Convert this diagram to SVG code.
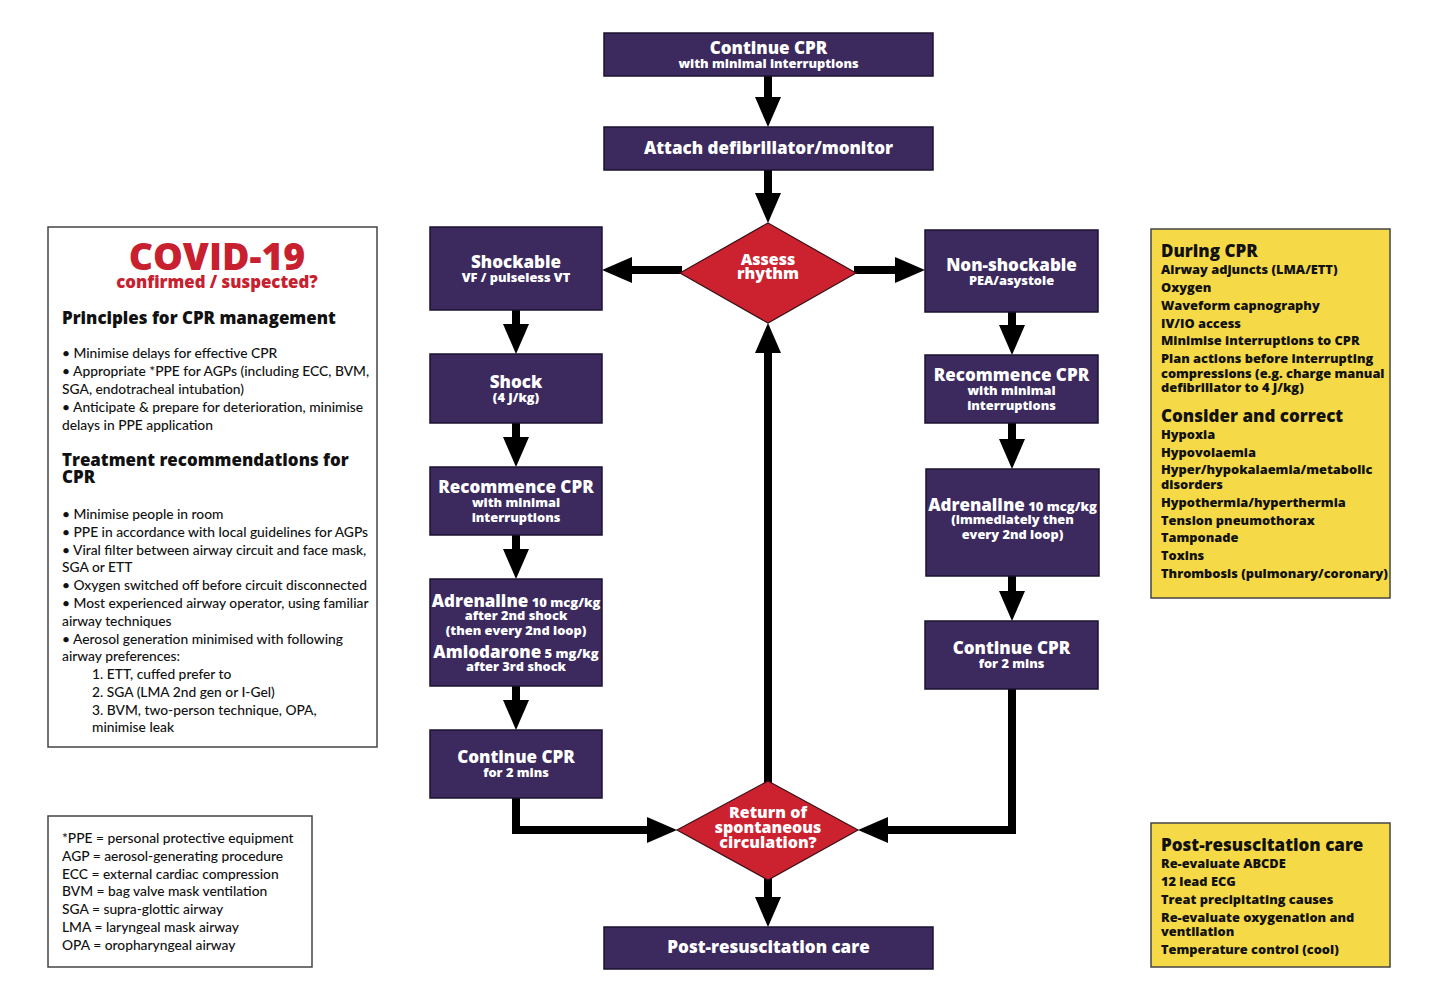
<svg xmlns="http://www.w3.org/2000/svg" width="1435" height="1000" viewBox="0 0 1435 1000">
<defs>
<style>
.node{fill:#3c2a5e;stroke:#1b1230;stroke-width:1.5}
.dia{fill:#cc2230;stroke:#3a1015;stroke-width:1.2}
.panel{fill:#ffffff;stroke:#444;stroke-width:1.5}
.ypanel{fill:#f5d946;stroke:#444;stroke-width:1.5}
text{font-family:"Open Sans","Liberation Sans",sans-serif}
.t{fill:#fff;font-weight:800;font-size:17px;text-anchor:middle}
.s{fill:#fff;font-weight:800;font-size:12.8px;text-anchor:middle}
.ds{font-size:13px}
.d{fill:#fff;font-weight:800;font-size:16px;text-anchor:middle}
.body{fill:#111;font-size:13.8px;font-weight:500;font-family:Lato,"Liberation Sans",sans-serif}
.h{fill:#111;font-size:16.9px;font-weight:800}
.yh{fill:#111;font-size:17px;font-weight:800}
.yi{fill:#111;font-size:12.8px;font-weight:800}
.conn{fill:none;stroke:#000;stroke-width:8;stroke-linejoin:miter}
</style>
<marker id="ah" markerUnits="userSpaceOnUse" markerWidth="30" markerHeight="26" viewBox="0 0 30 26" refX="4" refY="13" orient="auto">
<path d="M0,0 L30,13 L0,26 z" fill="#000"/>
</marker>
</defs>
<rect width="1435" height="1000" fill="#fff"/>

<g id="connectors">
<path class="conn" d="M768,76 V101" marker-end="url(#ah)"/>
<path class="conn" d="M768,170 V197" marker-end="url(#ah)"/>
<path class="conn" d="M682,270 H628" marker-end="url(#ah)"/>
<path class="conn" d="M854,270 H899" marker-end="url(#ah)"/>
<path class="conn" d="M516,310 V328" marker-end="url(#ah)"/>
<path class="conn" d="M516,423 V441" marker-end="url(#ah)"/>
<path class="conn" d="M516,535 V553" marker-end="url(#ah)"/>
<path class="conn" d="M516,686 V704" marker-end="url(#ah)"/>
<path class="conn" d="M516,798 V830 H651" marker-end="url(#ah)"/>
<path class="conn" d="M1012,312 V329" marker-end="url(#ah)"/>
<path class="conn" d="M1012,423 V443" marker-end="url(#ah)"/>
<path class="conn" d="M1012,576 V595" marker-end="url(#ah)"/>
<path class="conn" d="M1012,689 V830 H884" marker-end="url(#ah)"/>
<path class="conn" d="M768,783 V349" marker-end="url(#ah)"/>
<path class="conn" d="M768,878 V901" marker-end="url(#ah)"/>
</g>

<g id="n-continue-top">
<rect class="node" x="604" y="33" width="329" height="43"/>
<text class="t" x="768.5" y="54">Continue CPR</text>
<text class="s" x="768.5" y="68">with minimal interruptions</text>
</g>

<g id="n-attach">
<rect class="node" x="604" y="127" width="329" height="43"/>
<text class="t" x="768.5" y="154">Attach defibrillator/monitor</text>
</g>

<g id="n-assess">
<polygon class="dia" points="768,223 856,273 768,323 680,273"/>
<text class="d" x="768" y="265">Assess</text>
<text class="d" x="768" y="279">rhythm</text>
</g>

<g id="n-shockable">
<rect class="node" x="430" y="227" width="172" height="83"/>
<text class="t" x="516" y="268">Shockable</text>
<text class="s" x="516" y="282">VF / pulseless VT</text>
</g>

<g id="n-nonshockable">
<rect class="node" x="925" y="230" width="173" height="82"/>
<text class="t" x="1011.5" y="271">Non-shockable</text>
<text class="s" x="1011.5" y="285">PEA/asystole</text>
</g>

<g id="n-shock">
<rect class="node" x="430" y="354" width="172" height="69"/>
<text class="t" x="516" y="388">Shock</text>
<text class="s" x="516" y="402">(4 J/kg)</text>
</g>

<g id="n-recommence-left">
<rect class="node" x="430" y="467" width="172" height="68"/>
<text class="t" x="516" y="493">Recommence CPR</text>
<text class="s" x="516" y="507">with minimal</text>
<text class="s" x="516" y="522">interruptions</text>
</g>

<g id="n-drugs-left">
<rect class="node" x="430" y="579" width="172" height="107"/>
<text class="t" x="516" y="607">Adrenaline<tspan class="ds"> 10 mcg/kg</tspan></text>
<text class="s" x="516" y="620">after 2nd shock</text>
<text class="s" x="516" y="635">(then every 2nd loop)</text>
<text class="t" x="516" y="658">Amiodarone<tspan class="ds"> 5 mg/kg</tspan></text>
<text class="s" x="516" y="671">after 3rd shock</text>
</g>

<g id="n-continue-left">
<rect class="node" x="430" y="730" width="172" height="68"/>
<text class="t" x="516" y="763">Continue CPR</text>
<text class="s" x="516" y="777">for 2 mins</text>
</g>

<g id="n-recommence-right">
<rect class="node" x="925" y="355" width="173" height="68"/>
<text class="t" x="1011.5" y="381">Recommence CPR</text>
<text class="s" x="1011.5" y="395">with minimal</text>
<text class="s" x="1011.5" y="410">interruptions</text>
</g>

<g id="n-adrenaline-right">
<rect class="node" x="926" y="469" width="173" height="107"/>
<text class="t" x="1012.5" y="511">Adrenaline<tspan class="ds"> 10 mcg/kg</tspan></text>
<text class="s" x="1012.5" y="524">(immediately then</text>
<text class="s" x="1012.5" y="539">every 2nd loop)</text>
</g>

<g id="n-continue-right">
<rect class="node" x="925" y="621" width="173" height="68"/>
<text class="t" x="1011.5" y="654">Continue CPR</text>
<text class="s" x="1011.5" y="668">for 2 mins</text>
</g>

<g id="n-rosc">
<polygon class="dia" points="768,781 858,830 768,880 677,830"/>
<text class="d" x="768" y="818">Return of</text>
<text class="d" x="768" y="833">spontaneous</text>
<text class="d" x="768" y="848">circulation?</text>
</g>

<g id="n-post">
<rect class="node" x="604" y="927" width="329" height="42"/>
<text class="t" x="768.5" y="953">Post-resuscitation care</text>
</g>

<g id="covid-panel">
<rect class="panel" x="48" y="227" width="329" height="520"/>
<text x="217" y="270" style="fill:#c8202e;font-size:37.5px;font-weight:800;text-anchor:middle">COVID-19</text>
<text x="217" y="288" style="fill:#c8202e;font-size:16.8px;font-weight:800;text-anchor:middle">confirmed / suspected?</text>
<text class="h" x="62" y="324">Principles for CPR management</text>
<text class="body" x="62" y="358">• Minimise delays for effective CPR</text>
<text class="body" x="62" y="376">• Appropriate *PPE for AGPs (including ECC, BVM,</text>
<text class="body" x="62" y="394">SGA, endotracheal intubation)</text>
<text class="body" x="62" y="412">• Anticipate &amp; prepare for deterioration, minimise</text>
<text class="body" x="62" y="430">delays in PPE application</text>
<text class="h" x="62" y="466">Treatment recommendations for</text>
<text class="h" x="62" y="483">CPR</text>
<text class="body" x="62" y="519">• Minimise people in room</text>
<text class="body" x="62" y="537">• PPE in accordance with local guidelines for AGPs</text>
<text class="body" x="62" y="555">• Viral filter between airway circuit and face mask,</text>
<text class="body" x="62" y="572">SGA or ETT</text>
<text class="body" x="62" y="590">• Oxygen switched off before circuit disconnected</text>
<text class="body" x="62" y="608">• Most experienced airway operator, using familiar</text>
<text class="body" x="62" y="626">airway techniques</text>
<text class="body" x="62" y="644">• Aerosol generation minimised with following</text>
<text class="body" x="62" y="661">airway preferences:</text>
<text class="body" x="92" y="679">1. ETT, cuffed prefer to</text>
<text class="body" x="92" y="697">2. SGA (LMA 2nd gen or I-Gel)</text>
<text class="body" x="92" y="715">3. BVM, two-person technique, OPA,</text>
<text class="body" x="92" y="732">minimise leak</text>
</g>

<g id="abbrev-panel">
<rect class="panel" x="48" y="816" width="264" height="151"/>
<text class="body" x="62" y="843">*PPE = personal protective equipment</text>
<text class="body" x="62" y="861">AGP = aerosol-generating procedure</text>
<text class="body" x="62" y="879">ECC = external cardiac compression</text>
<text class="body" x="62" y="896">BVM = bag valve mask ventilation</text>
<text class="body" x="62" y="914">SGA = supra-glottic airway</text>
<text class="body" x="62" y="932">LMA = laryngeal mask airway</text>
<text class="body" x="62" y="950">OPA = oropharyngeal airway</text>
</g>

<g id="during-panel">
<rect class="ypanel" x="1151" y="229" width="239" height="369"/>
<text class="yh" x="1161" y="257">During CPR</text>
<text class="yi" x="1161" y="274">Airway adjuncts (LMA/ETT)</text>
<text class="yi" x="1161" y="292">Oxygen</text>
<text class="yi" x="1161" y="310">Waveform capnography</text>
<text class="yi" x="1161" y="328">IV/IO access</text>
<text class="yi" x="1161" y="345">Minimise interruptions to CPR</text>
<text class="yi" x="1161" y="363">Plan actions before interrupting</text>
<text class="yi" x="1161" y="378">compressions (e.g. charge manual</text>
<text class="yi" x="1161" y="392">defibrillator to 4 J/kg)</text>
<text class="yh" x="1161" y="422">Consider and correct</text>
<text class="yi" x="1161" y="439">Hypoxia</text>
<text class="yi" x="1161" y="457">Hypovolaemia</text>
<text class="yi" x="1161" y="474">Hyper/hypokalaemia/metabolic</text>
<text class="yi" x="1161" y="489">disorders</text>
<text class="yi" x="1161" y="507">Hypothermia/hyperthermia</text>
<text class="yi" x="1161" y="525">Tension pneumothorax</text>
<text class="yi" x="1161" y="542">Tamponade</text>
<text class="yi" x="1161" y="560">Toxins</text>
<text class="yi" x="1161" y="578">Thrombosis (pulmonary/coronary)</text>
</g>

<g id="post-panel">
<rect class="ypanel" x="1151" y="823" width="239" height="144"/>
<text class="yh" x="1161" y="851">Post-resuscitation care</text>
<text class="yi" x="1161" y="868">Re-evaluate ABCDE</text>
<text class="yi" x="1161" y="886">12 lead ECG</text>
<text class="yi" x="1161" y="904">Treat precipitating causes</text>
<text class="yi" x="1161" y="922">Re-evaluate oxygenation and</text>
<text class="yi" x="1161" y="936">ventilation</text>
<text class="yi" x="1161" y="954">Temperature control (cool)</text>
</g>
</svg>
